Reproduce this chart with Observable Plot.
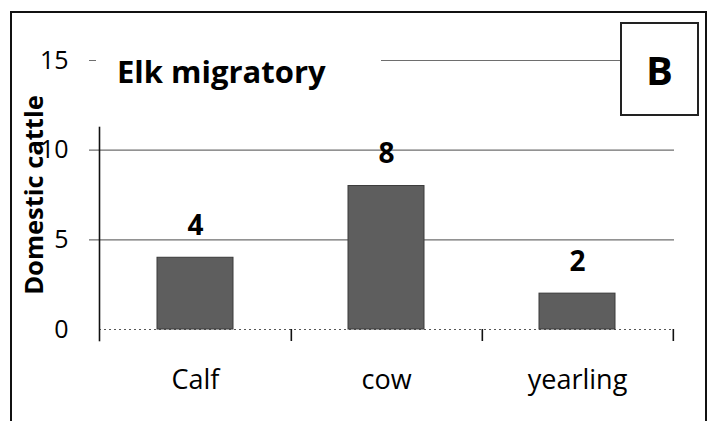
<!DOCTYPE html>
<html>
<head>
<meta charset="utf-8">
<script src="https://cdn.jsdelivr.net/npm/d3@7"></script>
<script src="https://cdn.jsdelivr.net/npm/@observablehq/plot@0.6"></script>
<style>
  html, body { margin: 0; padding: 0; background: #fff; }
  #wrap { position: relative; width: 713px; height: 421px; overflow: hidden; background: #fff; font-family: "Open Sans", sans-serif; color: #000; }
  #border { position: absolute; left: 10px; top: 11px; width: 697px; height: 430px; border: 2.5px solid #111; border-bottom: none; box-sizing: border-box; }
  #chart { position: absolute; left: 0; top: 0; }
  #title { position: absolute; left: 96px; top: 46px; width: 285px; height: 50px; background: #fff; font-weight: 700; font-size: 31px; line-height: 50px; padding-left: 21px; box-sizing: border-box; white-space: nowrap; }
  #badge { position: absolute; left: 620px; top: 22px; width: 79px; height: 94px; background: #fff; border: 2px solid #222; box-sizing: border-box; font-weight: 700; font-size: 40px; display: flex; align-items: center; justify-content: center; }
</style>
</head>
<body>
<div id="wrap">
  <div id="chart"></div>
  <div id="border"></div>
  <div id="title"></div>
  <div id="badge"></div>
</div>
<script>
const categories = ["Calf", "cow", "yearling"];
const values = [4, 8, 2];
const yTicks = [0, 5, 10, 15];
const gridValues = [5, 10, 15];
const yLabel = "Domestic cattle";
const titleText = "Elk migratory";
const panelLetter = "B";

const data = categories.map((c, i) => ({cat: c, value: values[i]}));

const W = 713, H = 421;
const mL = 99, mR = 39, mT = 60, mB = 92;
const half = (W - mL - mR) / categories.length / 2;

const chart = Plot.plot({
  width: W,
  height: H,
  marginLeft: mL,
  marginRight: mR,
  marginTop: mT,
  marginBottom: mB,
  style: {fontFamily: "'Open Sans', sans-serif", background: "transparent", color: "#000"},
  x: {domain: categories, paddingInner: 0.6, paddingOuter: 0.3},
  y: {domain: [0, 15]},
  marks: [
    Plot.ruleY(gridValues, {stroke: "#6e6e6e", strokeWidth: 1.2, insetLeft: -10}),
    Plot.ruleY([0], {stroke: "#555", strokeDasharray: "2 3"}),
    Plot.frame({anchor: "left", insetTop: 67, insetBottom: -11, stroke: "#111", strokeWidth: 1.6}),
    Plot.axisY({ticks: yTicks, tickSize: 0, tickPadding: 31, fontSize: 25, label: null}),
    Plot.axisX({tickSize: 12, tickFormat: () => "", dx: half, label: null, stroke: "#111", strokeWidth: 1.6}),
    Plot.axisX({tickSize: 0, tickPadding: 40, fontSize: 27, label: null}),
    Plot.barY(data, {x: "cat", y: "value", fill: "#5e5e5e", stroke: "#3a3a3a"}),
    Plot.text(data, {x: "cat", y: "value", text: d => String(d.value), dy: -32, fontSize: 28, fontWeight: "bold"}),
    Plot.text([yLabel], {frameAnchor: "left", text: d => d, rotate: -90, dx: -65, textAnchor: "middle", lineAnchor: "middle", fontSize: 25.5, fontWeight: "bold"})
  ]
});

document.getElementById("chart").appendChild(chart);
document.getElementById("title").textContent = titleText;
document.getElementById("badge").textContent = panelLetter;
</script>
</body>
</html>
